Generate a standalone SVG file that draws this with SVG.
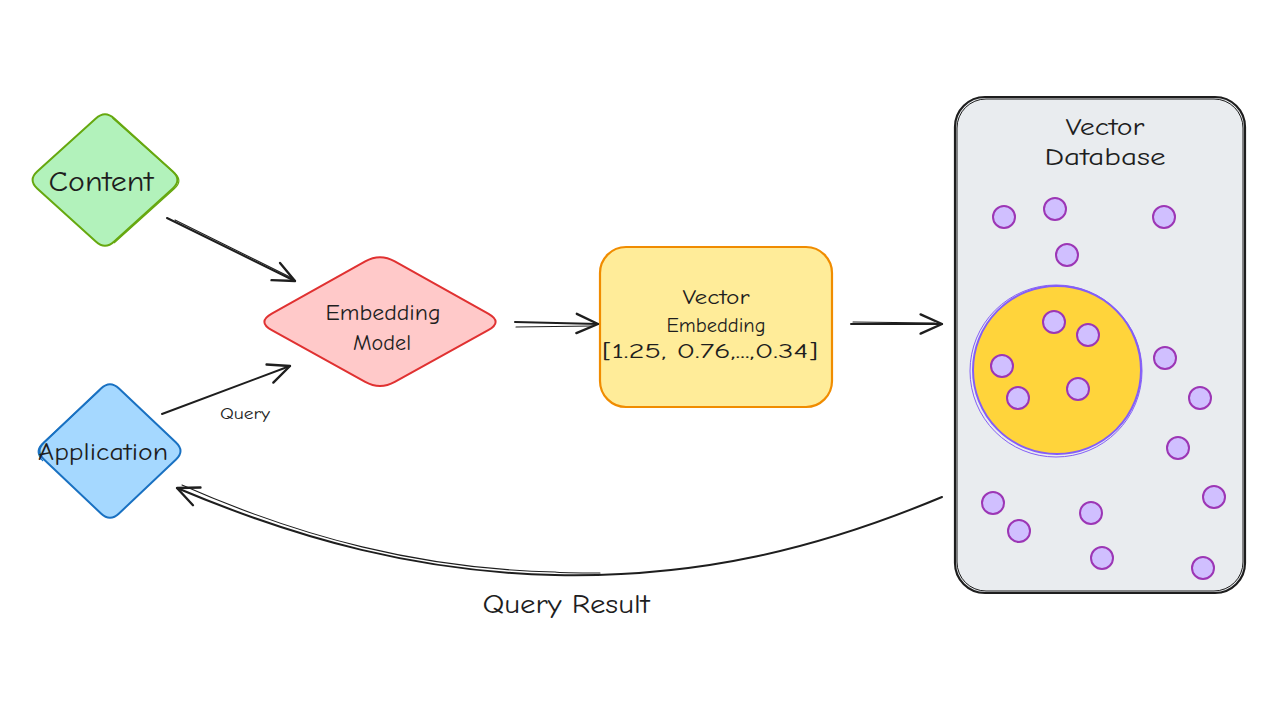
<svg xmlns="http://www.w3.org/2000/svg" width="1280" height="720" viewBox="0 0 1280 720">
<defs>
<style>
.t{font-family:"Comic Neue","Liberation Sans","DejaVu Sans",sans-serif;fill:#1e1e1e;text-anchor:middle}
.ln{fill:none;stroke:#1e1e1e;stroke-width:2;stroke-linecap:round}
.ln2{fill:none;stroke:#1e1e1e;stroke-width:1.1;stroke-linecap:round}
.dot{fill:#d0bfff;stroke:#9c36b5;stroke-width:2}
</style>
<marker id="ah" markerUnits="userSpaceOnUse" markerWidth="30" markerHeight="30" viewBox="-24 -12 28 24" refX="0" refY="0" orient="auto">
<path d="M-20,-9 L0,0 L-20,9" fill="none" stroke="#1e1e1e" stroke-width="2.2" stroke-linecap="round" stroke-linejoin="round"/>
</marker>
</defs>
<rect width="1280" height="720" fill="#ffffff"/>

<g id="content">
<path d="M114.2,118.4 L172.8,171.6 Q182,180 172.8,188.4 L114.2,241.6 Q105,250 95.8,241.6 L37.2,188.4 Q28,180 37.2,171.6 L95.8,118.4 Q105,110 114.2,118.4 Z" fill="#b2f2bb" stroke="#66a80f" stroke-width="2"/>
<path d="M112.5,118 L174.5,173 Q183.5,181 174,189 L114,243" fill="none" stroke="#66a80f" stroke-width="1.2"/>
<text class="t" x="101" y="191" font-size="28" textLength="105" lengthAdjust="spacingAndGlyphs">Content</text>
</g>

<g id="embedding-model">
<path d="M394.8,261.3 L488.2,313.7 Q503,322 488.2,330.2 L394.8,381.8 Q380,390 365.2,381.8 L271.8,330.2 Q257,322 271.8,313.7 L365.2,261.3 Q380,253 394.8,261.3 Z" fill="#ffc9c9" stroke="#e03131" stroke-width="2"/>
<text class="t" x="383" y="320" font-size="22" textLength="115" lengthAdjust="spacingAndGlyphs">Embedding</text>
<text class="t" x="382" y="350" font-size="22" textLength="58" lengthAdjust="spacingAndGlyphs">Model</text>
</g>

<g id="application">
<path d="M119,388.5 L176,442.5 Q185,451 176,459.5 L119,513.5 Q110,522 101,513.5 L44,459.5 Q35,451 44,442.5 L101,388.5 Q110,380 119,388.5 Z" fill="#a5d8ff" stroke="#1971c2" stroke-width="2"/>
<path d="M100,390 L42,444 Q34,452 43,461" fill="none" stroke="#1971c2" stroke-width="1.2"/>
<text class="t" x="103" y="460" font-size="25" textLength="130" lengthAdjust="spacingAndGlyphs">Application</text>
</g>

<g id="vector-embedding">
<rect x="600" y="247" width="232" height="160" rx="26" fill="#ffec99" stroke="#f08c00" stroke-width="2.2"/>
<text class="t" x="716" y="304" font-size="21" textLength="67" lengthAdjust="spacingAndGlyphs">Vector</text>
<text class="t" x="716" y="332" font-size="21" textLength="99" lengthAdjust="spacingAndGlyphs">Embedding</text>
<text class="t" x="710" y="358" font-size="20" textLength="216" lengthAdjust="spacingAndGlyphs">[1.25, 0.76,...,0.34]</text>
</g>

<g id="vector-database">
<rect x="955" y="97" width="290" height="496" rx="30" fill="#e9ecef" stroke="#1e1e1e" stroke-width="2.2"/>
<rect x="957" y="99" width="286" height="492" rx="29" fill="none" stroke="#1e1e1e" stroke-width="1"/>
<text class="t" x="1105" y="135" font-size="24" textLength="79" lengthAdjust="spacingAndGlyphs">Vector</text>
<text class="t" x="1105" y="165" font-size="24" textLength="121" lengthAdjust="spacingAndGlyphs">Database</text>
<circle cx="1057" cy="370" r="84" fill="#ffd43b" stroke="#845ef7" stroke-width="2"/>
<circle cx="1056" cy="371" r="86" fill="none" stroke="#845ef7" stroke-width="1"/>
<g id="points">
<circle class="dot" cx="1004" cy="217" r="11"/>
<circle class="dot" cx="1055" cy="209" r="11"/>
<circle class="dot" cx="1164" cy="217" r="11"/>
<circle class="dot" cx="1067" cy="255" r="11"/>
<circle class="dot" cx="1054" cy="322" r="11"/>
<circle class="dot" cx="1088" cy="335" r="11"/>
<circle class="dot" cx="1002" cy="366" r="11"/>
<circle class="dot" cx="1078" cy="389" r="11"/>
<circle class="dot" cx="1018" cy="398" r="11"/>
<circle class="dot" cx="1165" cy="358" r="11"/>
<circle class="dot" cx="1200" cy="398" r="11"/>
<circle class="dot" cx="1178" cy="448" r="11"/>
<circle class="dot" cx="1214" cy="497" r="11"/>
<circle class="dot" cx="993" cy="503" r="11"/>
<circle class="dot" cx="1019" cy="531" r="11"/>
<circle class="dot" cx="1091" cy="513" r="11"/>
<circle class="dot" cx="1102" cy="558" r="11"/>
<circle class="dot" cx="1203" cy="568" r="11"/>
</g>
</g>

<g id="connectors">
<path class="ln" d="M167,218 L295,281" marker-end="url(#ah)"/>
<path class="ln2" d="M175,220 L292,278"/>
<path class="ln" d="M162,414 L290,366" marker-end="url(#ah)"/>
<text class="t" x="245" y="419" font-size="16" textLength="50" lengthAdjust="spacingAndGlyphs">Query</text>
<path class="ln" d="M515,322 L598,324" marker-end="url(#ah)"/>
<path class="ln2" d="M516,327 L592,326"/>
<path class="ln" d="M851,324 L942,324" marker-end="url(#ah)"/>
<path class="ln2" d="M853,322 L935,323"/>
<path class="ln" d="M942,497 C 820,548 700,578 555,575 C 420,572 300,540 177,488" marker-end="url(#ah)"/>
<path class="ln2" d="M600,573 C 560,573 555,572 555,572 C 420,569 300,537 182,485"/>
<text class="t" x="566" y="613" font-size="26" textLength="167" lengthAdjust="spacingAndGlyphs">Query Result</text>
</g>
</svg>
